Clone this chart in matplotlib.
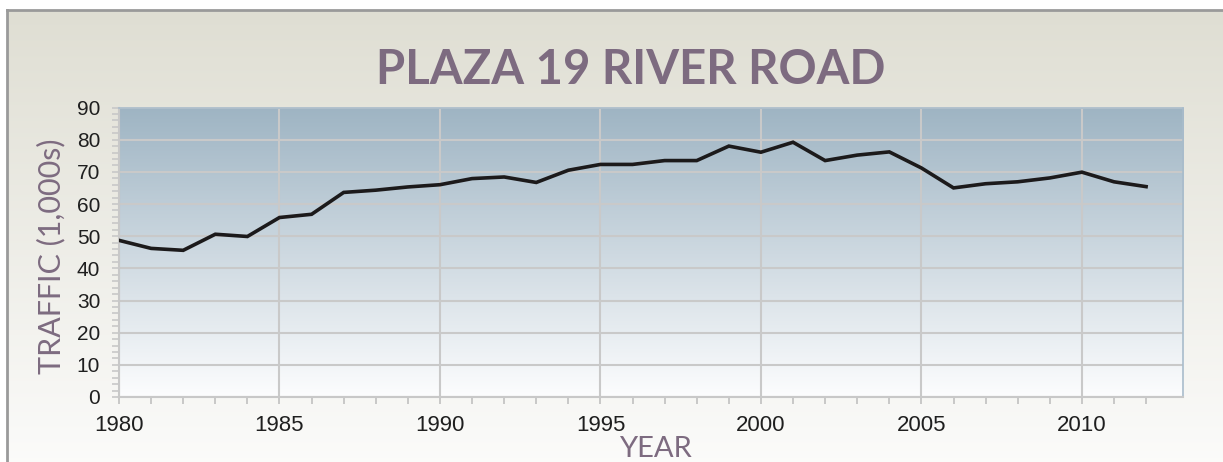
import matplotlib
matplotlib.use("Agg")
import matplotlib.pyplot as plt
import numpy as np

years = list(range(1980, 2013))
traffic = [48.7, 46.2, 45.6, 50.6, 49.9, 55.8, 56.8, 63.6, 64.3, 65.3,
           66.0, 67.9, 68.4, 66.7, 70.5, 72.3, 72.3, 73.5, 73.5, 78.0,
           76.1, 79.2, 73.5, 75.2, 76.2, 71.2, 65.0, 66.3, 66.9, 68.1,
           69.9, 66.9, 65.4]
xticks = [1980, 1985, 1990, 1995, 2000, 2005, 2010]
yticks = list(range(0, 100, 10))

title_color = "#7d6b80"
W, H = 1223, 462

fig = plt.figure(figsize=(W / 100, H / 100), dpi=100)
fig.patch.set_facecolor("white")

# outer panel with beige->white gradient
bg = fig.add_axes([7 / W, 0, 1, 1 - 10 / H], zorder=-2)
grad = np.linspace(0, 1, 256).reshape(-1, 1)
top = np.array([0.875, 0.871, 0.827])
bot = np.array([0.985, 0.985, 0.980])
img = top + (bot - top) * grad[:, :, None]
bg.imshow(img, aspect="auto", extent=[0, 1, 0, 1], transform=bg.transAxes)
bg.set_xticks([])
bg.set_yticks([])
for s in ["right", "bottom"]:
    bg.spines[s].set_visible(False)
for s in ["left", "top"]:
    bg.spines[s].set_color("#9a9a9a")
    bg.spines[s].set_linewidth(2)

ax = fig.add_axes([119 / W, 1 - 397 / H, (1183 - 119) / W, (397 - 107.5) / H])
ptop = np.array([0.620, 0.706, 0.765])
pbot = np.array([0.990, 0.992, 0.996])
pimg = ptop + (pbot - ptop) * grad[:, :, None]
ax.imshow(pimg, aspect="auto", extent=[0, 1, 0, 1], transform=ax.transAxes, zorder=0)

ax.plot(years, traffic, color="#1c1a1b", linewidth=2.6, zorder=3,
        solid_joinstyle="miter")

ax.set_xlim(1980, 2013.15)
ax.set_ylim(0, 90)
ax.set_xticks(xticks)
ax.set_xticks(years, minor=True)
ax.set_yticks(yticks)
ax.set_yticks(range(0, 91, 2), minor=True)
ax.grid(True, which="major", color="#c9c9c9", linewidth=1.5, zorder=1)
ax.set_axisbelow(True)

for s in ["top", "right"]:
    ax.spines[s].set_color("#a9bccb")
    ax.spines[s].set_linewidth(1.2)
ax.spines["left"].set_color("#c8c8c8")
ax.spines["bottom"].set_color("#c8c8c8")
ax.spines["left"].set_linewidth(1.5)
ax.spines["bottom"].set_linewidth(1.5)

ax.tick_params(axis="x", which="both", direction="out", color="#c0c0c0",
               width=1.2, labelsize=16, pad=8, length=5)
ax.tick_params(axis="y", which="both", direction="out", color="#c8c8c8",
               width=1.2, labelsize=15, pad=8.5, length=5)
for lab in ax.get_xticklabels() + ax.get_yticklabels():
    lab.set_fontfamily("Liberation Sans")
    lab.set_color("#1f1f1f")

fig.text(631 / W, 1 - 70 / H, "PLAZA 19 RIVER ROAD", ha="center", va="center",
         fontsize=34, fontweight="bold", family="Lato", color=title_color)
fig.text(51 / W, 1 - 256 / H, "TRAFFIC (1,000s)", ha="center", va="center",
         rotation=90, fontsize=22, family="Lato", color=title_color)
fig.text(655 / W, 1 - 449 / H, "YEAR", ha="center", va="center",
         fontsize=21, family="Lato", color=title_color)

fig.savefig("out.png", dpi=100)
